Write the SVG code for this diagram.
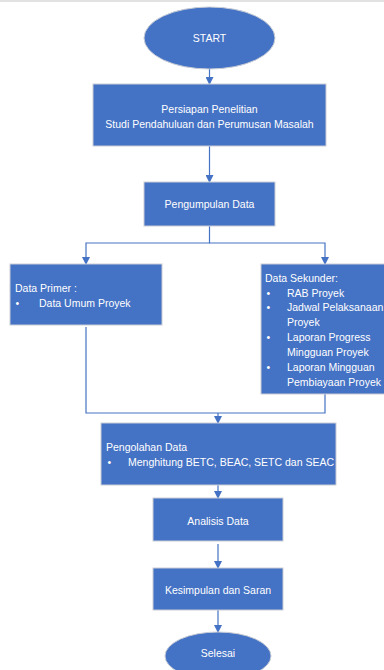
<svg xmlns="http://www.w3.org/2000/svg" width="384" height="670" viewBox="0 0 384 670">
<style>
.n{fill:#4472C4;stroke:#C9CDD6;stroke-width:1}
.t{fill:#FFFFFF;font-family:"Liberation Sans",Arial,sans-serif;font-size:10.5px}
.c{text-anchor:middle}
.e{fill:none;stroke:#4472C4;stroke-width:1.2}
</style>
<defs>
<marker id="ah" markerWidth="8" markerHeight="8" refX="7" refY="4" orient="auto" markerUnits="userSpaceOnUse">
<path d="M0,0 L8,4 L0,8 Z" fill="#4472C4"/>
</marker>
</defs>
<rect x="0" y="0" width="384" height="670" fill="#FFFFFF"/>
<line x1="0" y1="1" x2="384" y2="1" stroke="#D9D9D9" stroke-width="1.5"/>
<g id="connectors">
<line class="e" x1="209.5" y1="69" x2="209.5" y2="84" marker-end="url(#ah)"/>
<line class="e" x1="209.5" y1="146" x2="209.5" y2="182" marker-end="url(#ah)"/>
<polyline class="e" points="209.5,226 209.5,243 86,243 86,264" marker-end="url(#ah)"/>
<polyline class="e" points="209.5,243 325,243 325,264" marker-end="url(#ah)"/>
<polyline class="e" points="86,327 86,413 325,413 325,394"/>
<line class="e" x1="218" y1="413" x2="218" y2="423" marker-end="url(#ah)"/>
<line class="e" x1="218" y1="485" x2="218" y2="498" marker-end="url(#ah)"/>
<line class="e" x1="218" y1="544" x2="218" y2="568" marker-end="url(#ah)"/>
<line class="e" x1="218" y1="610" x2="218" y2="632" marker-end="url(#ah)"/>
</g>
<g id="start">
<ellipse class="n" cx="209.5" cy="38" rx="65.5" ry="31"/>
<text class="t c" x="209.5" y="41.5">START</text>
</g>
<g id="persiapan">
<rect class="n" x="93" y="84" width="233" height="62"/>
<text class="t c" x="209.5" y="112.5">Persiapan Penelitian</text>
<text class="t c" x="209.5" y="127.5">Studi Pendahuluan dan Perumusan Masalah</text>
</g>
<g id="pengumpulan">
<rect class="n" x="144" y="182" width="131" height="44"/>
<text class="t c" x="209.5" y="207.5">Pengumpulan Data</text>
</g>
<g id="primer">
<rect class="n" x="10" y="264" width="152" height="61"/>
<text class="t" x="15" y="291.5">Data Primer :</text>
<text class="t" x="15.5" y="306.5">•</text>
<text class="t" x="39" y="306.5">Data Umum Proyek</text>
</g>
<g id="sekunder">
<rect class="n" x="261" y="264" width="126" height="130"/>
<text class="t" x="265" y="281.5">Data Sekunder:</text>
<text class="t" x="266.5" y="296.5">•</text>
<text class="t" x="287" y="296.5">RAB Proyek</text>
<text class="t" x="266.5" y="311">•</text>
<text class="t" x="287" y="311">Jadwal Pelaksanaan</text>
<text class="t" x="287" y="325.5">Proyek</text>
<text class="t" x="266.5" y="341">•</text>
<text class="t" x="287" y="341">Laporan Progress</text>
<text class="t" x="287" y="355.5">Mingguan Proyek</text>
<text class="t" x="266.5" y="371">•</text>
<text class="t" x="287" y="371">Laporan Mingguan</text>
<text class="t" x="287" y="385.5">Pembiayaan Proyek</text>
</g>
<g id="pengolahan">
<rect class="n" x="101" y="423" width="235" height="62"/>
<text class="t" x="106" y="450.5">Pengolahan Data</text>
<text class="t" x="107.5" y="465.5">•</text>
<text class="t" x="128" y="465.5">Menghitung BETC, BEAC, SETC dan SEAC</text>
</g>
<g id="analisis">
<rect class="n" x="153" y="498" width="130" height="43"/>
<text class="t c" x="218" y="524.5">Analisis Data</text>
</g>
<g id="kesimpulan">
<rect class="n" x="153" y="568" width="130" height="42"/>
<text class="t c" x="218" y="593.5">Kesimpulan dan Saran</text>
</g>
<g id="selesai">
<ellipse class="n" cx="218" cy="656" rx="53" ry="24"/>
<text class="t c" x="218" y="657">Selesai</text>
</g>
</svg>
